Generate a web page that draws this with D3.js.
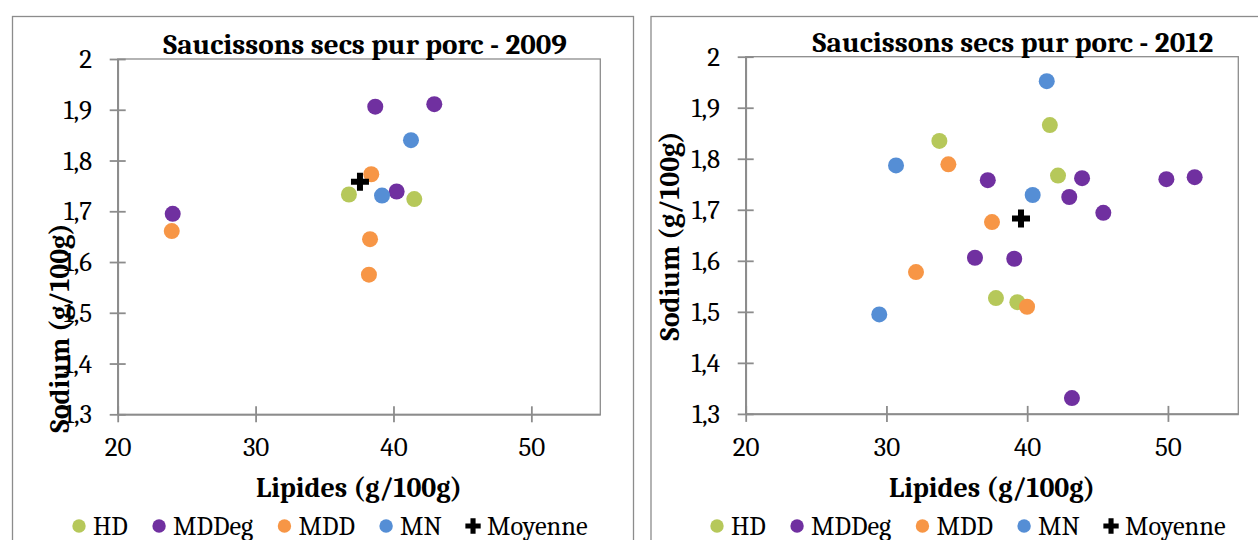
<!DOCTYPE html>
<html>
<head>
<meta charset="utf-8">
<script src="https://cdn.jsdelivr.net/npm/d3@7/dist/d3.min.js"></script>
<style>
  html, body { margin: 0; padding: 0; background: #ffffff; }
  svg { display: block; }
</style>
</head>
<body>
<svg id="chart" width="1258" height="540"></svg>
<script>
// ---------- data ----------
const categories = ["HD", "MDDeg", "MDD", "MN", "Moyenne"];
const xTicks = [20, 30, 40, 50];
const yTicks = [1.3, 1.4, 1.5, 1.6, 1.7, 1.8, 1.9, 2];
const titles = ["Saucissons secs pur porc - 2009", "Saucissons secs pur porc - 2012"];
const xTitle = "Lipides (g/100g)";
const yTitle = "Sodium (g/100g)";

// 2009 : [lipides, sodium]
const hd2009    = [[36.77, 1.733], [41.51, 1.724]];
const mddeg2009 = [[38.68, 1.906], [42.96, 1.911], [40.23, 1.739], [23.99, 1.695]];
const mdd2009   = [[38.39, 1.773], [38.30, 1.645], [38.22, 1.575], [23.92, 1.661]];
const mn2009    = [[41.27, 1.840], [39.17, 1.731]];
const moy2009   = [[37.57, 1.758]];

// 2012 : [lipides, sodium]
const hd2012    = [[33.76, 1.835], [41.61, 1.866], [42.19, 1.767], [37.78, 1.527], [39.30, 1.519]];
const mddeg2012 = [[37.20, 1.758], [43.90, 1.762], [42.99, 1.725], [45.41, 1.694], [36.29, 1.606],
                   [39.08, 1.604], [43.18, 1.331], [49.89, 1.760], [51.90, 1.764]];
const mdd2012   = [[34.40, 1.789], [37.50, 1.676], [32.10, 1.578], [39.99, 1.510]];
const mn2012    = [[30.68, 1.787], [40.39, 1.729], [29.49, 1.495], [41.39, 1.952]];
const moy2012   = [[39.56, 1.683]];

// ---------- styles ----------
const FONT = "Caladea, Cambria, 'Liberation Serif', serif";
const colors = { "HD": "#B6C85A", "MDDeg": "#7030A0", "MDD": "#F79646", "MN": "#558ED5", "Moyenne": "#000000" };
const gridGray = "#8C8C8C";
const fmt = d => String(d).replace(".", ",");

const panels = [
  { box: [12.5, 16.5, 621, 540], plot: { l: 117.7, r: 600.3, t: 59, b: 414.3 },
    title: titles[0], titleX: 365, titleY: 54, yTitleX: 69, yTitleY: 328,
    legendX: 79, series: [hd2009, mddeg2009, mdd2009, mn2009, moy2009] },
  { box: [651, 16.5, 640, 540], plot: { l: 745.7, r: 1238.3, t: 56.7, b: 413.9 },
    title: titles[1], titleX: 1013, titleY: 52, yTitleX: 679, yTitleY: 236,
    legendX: 717, series: [hd2012, mddeg2012, mdd2012, mn2012, moy2012] }
];

const svg = d3.select("#chart");
svg.append("rect").attr("width", 1258).attr("height", 540).attr("fill", "#fff");

function txt(sel, size, bold) {
  return sel.attr("font-family", FONT).style("font-family", FONT)
    .style("font-size", size + "px").style("font-weight", bold ? "bold" : "normal").attr("fill", "#000");
}

panels.forEach(p => {
  const g = svg.append("g");
  g.append("rect").attr("x", p.box[0]).attr("y", p.box[1])
    .attr("width", p.box[2]).attr("height", p.box[3])
    .attr("fill", "#fff").attr("stroke", gridGray).attr("stroke-width", 1.3);

  const x = d3.scaleLinear().domain([20, 55]).range([p.plot.l, p.plot.r]);
  const y = d3.scaleLinear().domain([1.3, 2]).range([p.plot.b, p.plot.t]);

  g.append("rect").attr("x", p.plot.l).attr("y", p.plot.t)
    .attr("width", p.plot.r - p.plot.l).attr("height", p.plot.b - p.plot.t)
    .attr("fill", "none").attr("stroke", gridGray).attr("stroke-width", 1.3);

  const ya = g.append("g").attr("transform", `translate(${p.plot.l},0)`)
    .call(d3.axisLeft(y).tickValues(yTicks).tickFormat(fmt).tickSize(8).tickSizeOuter(0).tickPadding(17.7));
  const xa = g.append("g").attr("transform", `translate(0,${p.plot.b})`)
    .call(d3.axisBottom(x).tickValues(xTicks).tickFormat(d3.format("d")).tickSize(8).tickSizeOuter(0).tickPadding(14.8));
  [ya, xa].forEach(a => {
    a.attr("font-family", FONT);
    a.select(".domain").attr("stroke", gridGray).attr("stroke-width", 1.8);
    a.selectAll(".tick line").attr("stroke", gridGray).attr("stroke-width", 1.8);
    txt(a.selectAll(".tick text"), 27, false);
  });
  ya.selectAll(".tick line").attr("x1", 8);
  xa.selectAll(".tick line").attr("y1", -8);

  txt(g.append("text").attr("x", p.titleX).attr("y", p.titleY).attr("text-anchor", "middle"), 29.2, true).text(p.title);
  txt(g.append("text").attr("x", (p.plot.l + p.plot.r) / 2).attr("y", 497).attr("text-anchor", "middle"), 28, true).text(xTitle);
  txt(g.append("text").attr("transform", `translate(${p.yTitleX},${p.yTitleY}) rotate(-90)`).attr("text-anchor", "middle"), 28, true).text(yTitle);

  p.series.forEach((data, i) => {
    const cat = categories[i];
    if (cat === "Moyenne") {
      g.selectAll(null).data(data).enter().append("path")
        .attr("d", d3.symbol(d3.symbolCross, 180)())
        .attr("transform", d => `translate(${x(d[0])},${y(d[1])})`)
        .attr("fill", colors[cat]);
    } else {
      g.selectAll(null).data(data).enter().append("circle")
        .attr("cx", d => x(d[0])).attr("cy", d => y(d[1])).attr("r", 8)
        .attr("fill", colors[cat]);
    }
  });

  let lx = p.legendX;
  const ly = 526;
  categories.forEach(cat => {
    if (cat === "Moyenne") {
      g.append("path").attr("d", d3.symbol(d3.symbolCross, 130)())
        .attr("transform", `translate(${lx},${ly})`).attr("fill", colors[cat]);
    } else {
      g.append("circle").attr("cx", lx).attr("cy", ly).attr("r", 6.7).attr("fill", colors[cat]);
    }
    const t = txt(g.append("text").attr("x", lx + 14).attr("y", ly + 8.5), 26.4, false).text(cat);
    const w = t.node().getComputedTextLength();
    lx = lx + 14 + w + 31.2;
  });
});
</script>
</body>
</html>
